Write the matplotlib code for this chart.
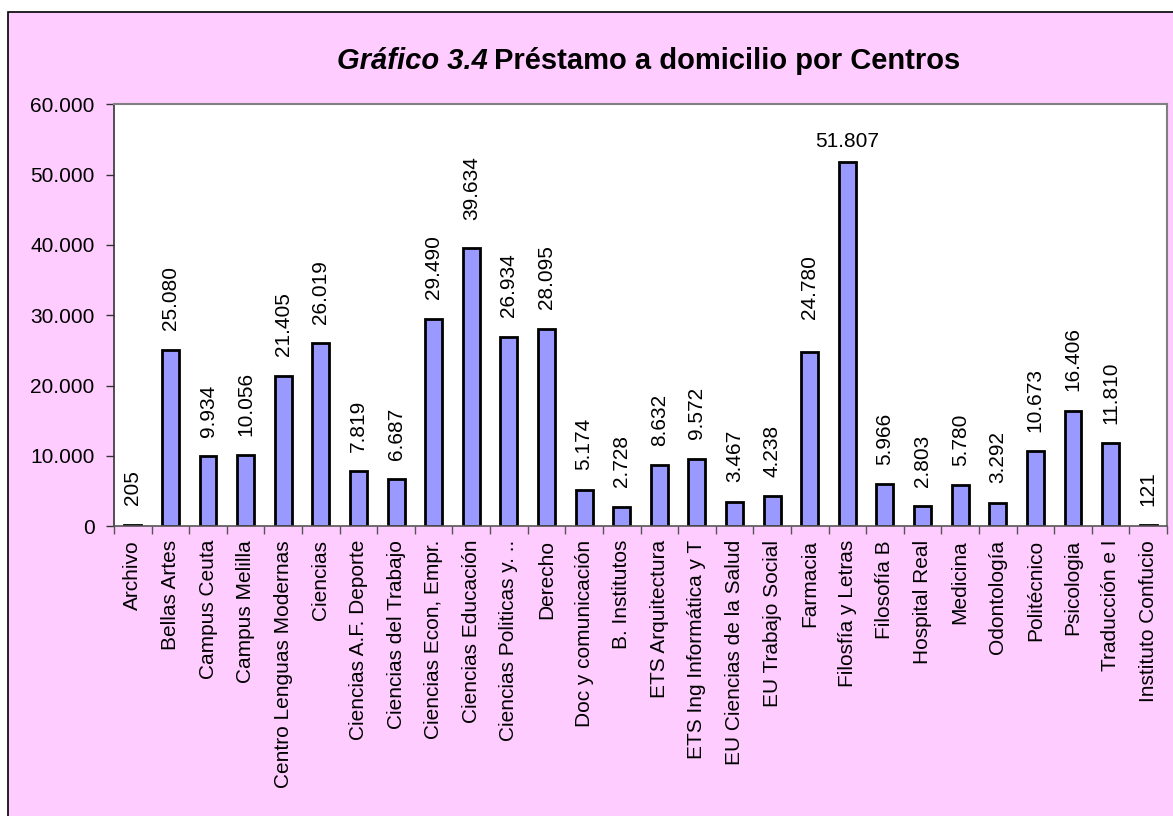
import matplotlib.pyplot as plt
from matplotlib.patches import Rectangle
from matplotlib.ticker import FuncFormatter, FixedLocator
import numpy as np

plt.rcParams['font.family'] = ['Liberation Sans', 'DejaVu Sans']

centros = ['Archivo', 'Bellas Artes', 'Campus Ceuta', 'Campus Melilla',
           'Centro Lenguas Modernas', 'Ciencias', 'Ciencias A.F. Deporte',
           'Ciencias del Trabajo', 'Ciencias Econ, Empr.', 'Ciencias Educación',
           'Ciencias Politicas y. ..', 'Derecho', 'Doc y comunicación',
           'B. Institutos', 'ETS Arquitectura', 'ETS Ing Informática y T',
           'EU Ciencias de la Salud', 'EU Trabajo Social', 'Farmacia',
           'Filosfía y Letras', 'Filosofía B', 'Hospital Real', 'Medicina',
           'Odontología', 'Politécnico', 'Psicologia', 'Traducción e I',
           'Instituto Confucio']
prestamos = [205, 25080, 9934, 10056, 21405, 26019, 7819, 6687, 29490, 39634,
             26934, 28095, 5174, 2728, 8632, 9572, 3467, 4238, 24780, 51807,
             5966, 2803, 5780, 3292, 10673, 16406, 11810, 121]

# algunas etiquetas estan algo mas separadas de la barra (en puntos)
ajuste_etiqueta = {'Ciencias Educación': 6, 'Farmacia': 10}


def miles(v):
    # separador de miles con punto
    return '{:,.0f}'.format(v).replace(',', '.')


fig = plt.figure(figsize=(11.73, 8.16), dpi=100, facecolor='white')
# marco rosa del grafico
fig.patches.append(Rectangle((8 / 1173, -0.1), 1.2, 1.1 - 12 / 816,
                             transform=fig.transFigure, facecolor='#FFCCFF',
                             edgecolor='black', linewidth=1.2, zorder=-10))

ax = fig.add_axes([114 / 1173, 1 - 526 / 816, (1167 - 114) / 1173, (526 - 104.5) / 816])
ax.set_facecolor('white')

x = np.arange(len(centros))
ax.bar(x, prestamos, width=0.45, color='#9999FF', edgecolor='black', linewidth=2)

ax.set_xlim(-0.5, len(centros) - 0.5)
ax.set_ylim(0, 60000)
ax.set_yticks(np.arange(0, 60001, 10000))
ax.yaxis.set_major_formatter(FuncFormatter(lambda v, p: miles(v)))
ax.tick_params(axis='y', direction='out', length=6, width=1, color='#333333',
               labelsize=15, pad=8)

ax.set_xticks(x)
ax.set_xticklabels(centros, rotation=90, fontsize=15)
ax.tick_params(axis='x', which='major', length=0, pad=10)
ax.xaxis.set_minor_locator(FixedLocator(np.arange(-0.5, len(centros), 1)))
ax.tick_params(axis='x', which='minor', direction='out', length=6, width=1, color='#555555')

for s in ['top', 'right']:
    ax.spines[s].set_color('#808080')
    ax.spines[s].set_linewidth(1.5)
ax.spines['left'].set_color('#333333')
ax.spines['bottom'].set_color('#555555')
ax.spines['left'].set_linewidth(1.2)
ax.spines['bottom'].set_linewidth(1.2)

# etiquetas de valores
for xi, c, v in zip(x, centros, prestamos):
    if v > 45000:
        # no cabe en vertical: horizontal
        ax.annotate(miles(v), (xi, v), xytext=(0, 8), textcoords='offset points',
                    ha='center', va='bottom', fontsize=15)
    else:
        ax.annotate(miles(v), (xi, v), xytext=(0, 14 + ajuste_etiqueta.get(c, 0)),
                    textcoords='offset points', ha='center', va='bottom',
                    rotation=90, fontsize=15)

# titulo
fig.text(488 / 1173, 1 - 61 / 816, 'Gráfico 3.4', ha='right', va='center',
         fontsize=21, fontweight='bold', fontstyle='italic')
fig.text(494 / 1173, 1 - 61 / 816, 'Préstamo a domicilio por Centros', ha='left',
         va='center', fontsize=21, fontweight='bold')

fig.savefig('out.png', dpi=100, facecolor='white')
